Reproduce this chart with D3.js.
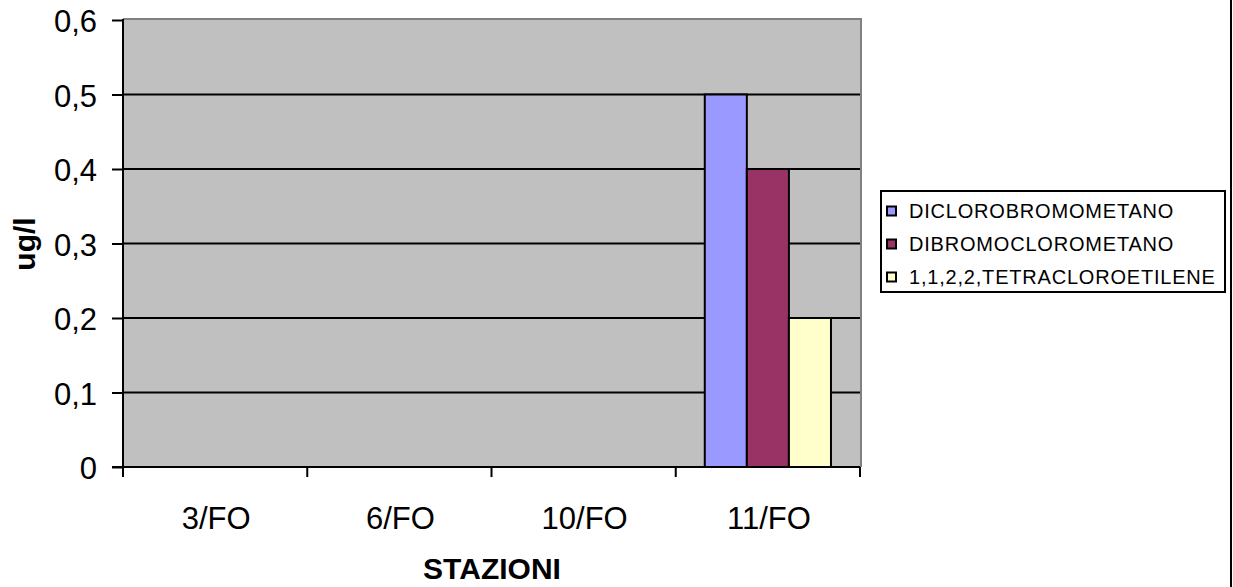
<!DOCTYPE html>
<html>
<head>
<meta charset="utf-8">
<script src="https://cdn.jsdelivr.net/npm/d3@7"></script>
<style>
  html, body { margin: 0; padding: 0; background: #fff; }
  svg { display: block; }
  text { font-family: Arial, "Liberation Sans", sans-serif; fill: #000; }
</style>
</head>
<body>
<svg id="chart" width="1233" height="587"></svg>
<script>
const categories = ["3/FO", "6/FO", "10/FO", "11/FO"];
const seriesNames = ["DICLOROBROMOMETANO", "DIBROMOCLOROMETANO", "1,1,2,2,TETRACLOROETILENE"];
const diclorobromometano = [null, null, null, 0.5];
const dibromoclorometano = [null, null, null, 0.4];
const tetracloroetilene = [null, null, null, 0.2];
const yTicks = [0, 0.1, 0.2, 0.3, 0.4, 0.5, 0.6];
const yTickLabels = ["0", "0,1", "0,2", "0,3", "0,4", "0,5", "0,6"];
const colors = ["#9999FF", "#993366", "#FFFFCC"];

const seriesValues = [diclorobromometano, dibromoclorometano, tetracloroetilene];

const svg = d3.select("#chart");
const plot = { left: 123, right: 860, top: 20, bottom: 467 };

const x = d3.scaleBand().domain(categories).range([plot.left, plot.right]).padding(0);
const xInner = d3.scaleBand().domain(seriesNames).range([0, x.bandwidth()]).paddingInner(0).paddingOuter(0.69);
const y = d3.scaleLinear().domain([0, 0.6]).range([plot.bottom, plot.top]);

// plot background
svg.append("rect")
  .attr("x", plot.left).attr("y", plot.top)
  .attr("width", plot.right - plot.left).attr("height", plot.bottom - plot.top)
  .attr("fill", "#C0C0C0");

// top and right gray frame
svg.append("line").attr("x1", plot.left).attr("x2", plot.right + 1)
  .attr("y1", plot.top - 1).attr("y2", plot.top - 1)
  .attr("stroke", "#808080").attr("stroke-width", 2);
svg.append("line").attr("x1", plot.right + 1).attr("x2", plot.right + 1)
  .attr("y1", plot.top - 2).attr("y2", plot.bottom)
  .attr("stroke", "#808080").attr("stroke-width", 2);

// gridlines
svg.append("g").selectAll("line")
  .data(yTicks.filter(d => d > 0 && d < 0.6))
  .join("line")
  .attr("x1", plot.left).attr("x2", plot.right)
  .attr("y1", d => y(d)).attr("y2", d => y(d))
  .attr("stroke", "#000").attr("stroke-width", 2);

// bars
categories.forEach((c, ci) => {
  seriesNames.forEach((s, si) => {
    const v = seriesValues[si][ci];
    if (v == null) return;
    svg.append("rect")
      .attr("x", x(c) + xInner(s))
      .attr("y", y(v))
      .attr("width", xInner.bandwidth())
      .attr("height", y(0) - y(v))
      .attr("fill", colors[si])
      .attr("stroke", "#000").attr("stroke-width", 2);
  });
});

// y axis
const yAxis = d3.axisLeft(y).tickValues(yTicks)
  .tickFormat((d, i) => yTickLabels[i]).tickSize(11).tickPadding(15);
const gy = svg.append("g").attr("transform", `translate(${plot.left},0)`).call(yAxis);
gy.select(".domain").attr("stroke", "#000").attr("stroke-width", 2)
  .attr("d", `M0,${plot.top - 1}V${plot.bottom}`);
gy.selectAll(".tick line").attr("stroke", "#000").attr("stroke-width", 2);
gy.selectAll(".tick text").attr("font-size", 31).attr("font-family", "Arial, 'Liberation Sans', sans-serif")
  .attr("dy", "0.38em").attr("fill", "#000");

// x axis
const gx = svg.append("g").attr("transform", `translate(0,${plot.bottom})`);
gx.append("line").attr("x1", plot.left - 11).attr("x2", plot.right)
  .attr("y1", 0).attr("y2", 0).attr("stroke", "#000").attr("stroke-width", 2);
const tickPos = categories.map(c => x(c)).concat([x(categories[categories.length - 1]) + x.bandwidth()]);
gx.selectAll("line.tk").data(tickPos).join("line").attr("class", "tk")
  .attr("x1", d => d).attr("x2", d => d).attr("y1", 0).attr("y2", 10)
  .attr("stroke", "#000").attr("stroke-width", 2);
gx.selectAll("text.cat").data(categories).join("text").attr("class", "cat")
  .attr("x", d => x(d) + x.bandwidth() / 2 + 1)
  .attr("y", 62)
  .attr("text-anchor", "middle")
  .attr("font-size", 31)
  .text(d => d);

// axis titles
svg.append("text")
  .attr("x", 492).attr("y", 579)
  .attr("text-anchor", "middle").attr("font-size", 30).attr("font-weight", "bold")
  .text("STAZIONI");
svg.append("text")
  .attr("transform", `translate(35,244) rotate(-90)`)
  .attr("text-anchor", "middle").attr("font-size", 30).attr("font-weight", "bold")
  .text("ug/l");

// legend
const lg = svg.append("g");
lg.append("rect").attr("x", 881).attr("y", 191).attr("width", 344).attr("height", 101)
  .attr("fill", "#fff").attr("stroke", "#000").attr("stroke-width", 2);
seriesNames.forEach((s, i) => {
  const cy = 211 + i * 33;
  lg.append("rect").attr("x", 887).attr("y", cy - 4.5).attr("width", 9).attr("height", 9)
    .attr("fill", colors[i]).attr("stroke", "#000").attr("stroke-width", 2);
  lg.append("text").attr("x", 909).attr("y", cy + 7)
    .attr("font-size", 20).attr("letter-spacing", 0.8)
    .text(s);
});

// outer chart border (right side)
svg.append("line").attr("x1", 1231).attr("x2", 1231).attr("y1", 0).attr("y2", 587)
  .attr("stroke", "#000").attr("stroke-width", 2);
</script>
</body>
</html>
